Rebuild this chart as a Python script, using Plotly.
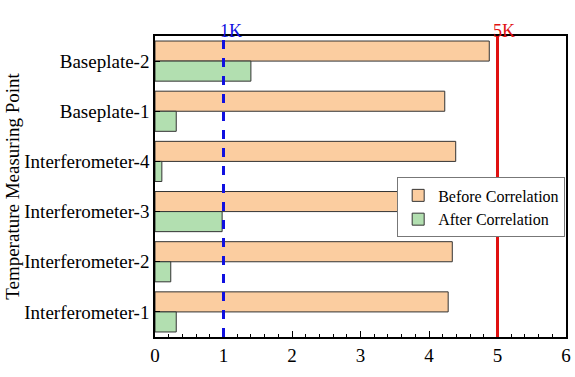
import plotly.graph_objects as go

categories = ["Baseplate-2", "Baseplate-1", "Interferometer-4",
              "Interferometer-3", "Interferometer-2", "Interferometer-1"]
before_vals = [4.88, 4.23, 4.39, 3.55, 4.34, 4.28]
after_vals = [1.40, 0.31, 0.10, 0.98, 0.23, 0.31]
x_ticks = [0, 1, 2, 3, 4, 5, 6]
threshold_low = 1
threshold_high = 5

FONT = "Liberation Serif"

fig = go.Figure()
fig.add_trace(go.Bar(
    y=categories, x=before_vals, orientation="h", name="Before Correlation",
    marker=dict(color="#FBCDA0", line=dict(color="#333333", width=1)),
))
fig.add_trace(go.Bar(
    y=categories, x=after_vals, orientation="h", name="After Correlation",
    marker=dict(color="#B2DFB0", line=dict(color="#333333", width=1)),
))

fig.add_shape(type="line", x0=threshold_low, x1=threshold_low, y0=0, y1=1,
              xref="x", yref="paper", line=dict(color="#1010E0", width=3, dash="dash"))
fig.add_shape(type="line", x0=threshold_high, x1=threshold_high, y0=0, y1=1,
              xref="x", yref="paper", line=dict(color="#E01010", width=3))
fig.add_annotation(x=threshold_low, y=1, xref="x", yref="paper", text="1K",
                   showarrow=False, yanchor="bottom", xanchor="left", xshift=-6, yshift=-7,
                   font=dict(family=FONT, size=18, color="#1010E0"))
fig.add_annotation(x=threshold_high, y=1, xref="x", yref="paper", text="5K",
                   showarrow=False, yanchor="bottom", xanchor="center", xshift=6, yshift=-7,
                   font=dict(family=FONT, size=18, color="#E01010"))

fig.update_layout(
    width=575, height=377,
    margin=dict(l=155, r=9, t=36, b=40),
    barmode="group", bargap=0.2, bargroupgap=0,
    plot_bgcolor="white", paper_bgcolor="white",
    font=dict(family=FONT, size=19, color="black"),
    showlegend=True,
    legend=dict(x=0.998, y=0.53, xanchor="right", yanchor="top",
                bgcolor="white", bordercolor="#777777", borderwidth=1,
                font=dict(family=FONT, size=16), tracegroupgap=0),
    xaxis=dict(range=[0, 6], tickvals=x_ticks, ticks="inside", ticklen=6,
               tickwidth=1, tickcolor="black", automargin=False,
               minor=dict(dtick=0.2, ticks="inside", ticklen=3, tickcolor="black"),
               showline=True, linecolor="black", linewidth=1.5, mirror=True,
               showgrid=False, zeroline=False,
               tickfont=dict(family=FONT, size=19)),
    yaxis=dict(autorange="reversed", ticks="inside", ticklen=5, tickcolor="black",
               showline=True, linecolor="black", linewidth=1.5, mirror=True,
               showgrid=False, automargin=False,
               title=dict(text="Temperature Measuring Point", standoff=0,
                          font=dict(family=FONT, size=19)),
               tickfont=dict(family=FONT, size=19)),
)

fig.write_html("out.html", config={"displayModeBar": False},
               post_script="document.body.style.margin='0';document.body.style.padding='0';")
